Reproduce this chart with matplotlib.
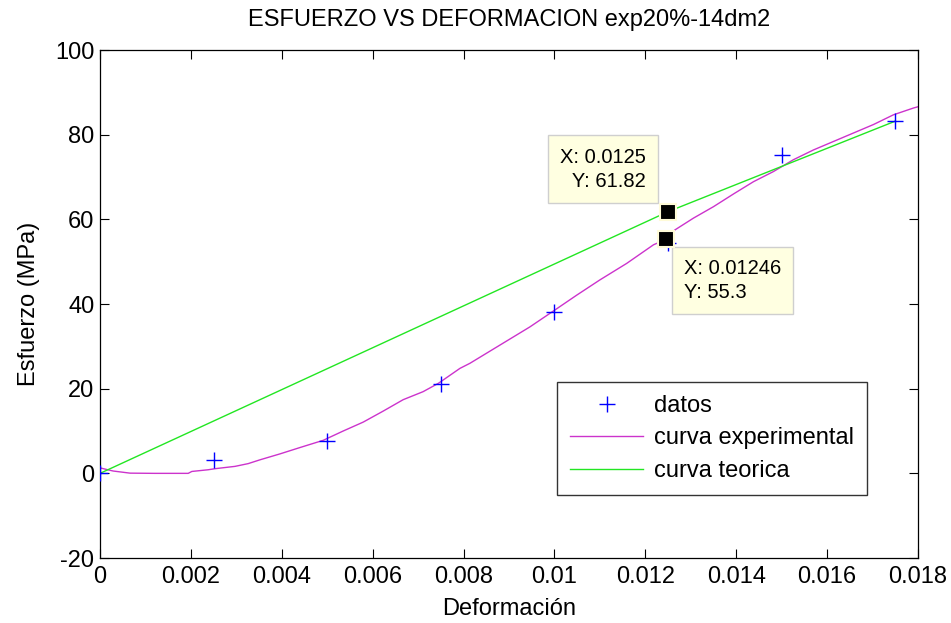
import matplotlib.pyplot as plt

plt.rcParams['font.family'] = ['Liberation Sans', 'DejaVu Sans']
plt.rcParams['axes.unicode_minus'] = False

# measured points
def_datos = [0.0, 0.0025, 0.005, 0.0075, 0.01, 0.0125, 0.015, 0.0175]
esf_datos = [0.0, 3.1, 7.6, 21.0, 38.2, 54.5, 75.2, 83.2]

# experimental curve (strain, stress in MPa)
def_exp = [0.0, 0.00015, 0.00029, 0.00066, 0.0012, 0.00194, 0.00202, 0.00238,
           0.00253, 0.00297, 0.00326, 0.00352, 0.00396, 0.0044, 0.00491,
           0.00535, 0.00579, 0.00623, 0.00667, 0.00711, 0.00745, 0.00792,
           0.00814, 0.0088, 0.00946, 0.00997, 0.01049, 0.011, 0.01159,
           0.01218, 0.01246, 0.01265, 0.01306, 0.0135, 0.01394, 0.01438,
           0.01482, 0.01526, 0.0157, 0.01614, 0.01658, 0.01702, 0.01746,
           0.0179, 0.018]
esf_exp = [1.3, 0.9, 0.55, 0.05, 0.0, 0.0, 0.45, 0.85,
           1.1, 1.65, 2.3, 3.2, 4.6, 6.1, 7.8,
           10.0, 12.1, 14.7, 17.4, 19.3, 21.3, 24.8,
           26.0, 30.3, 34.6, 38.3, 42.1, 45.7, 49.6,
           54.0, 55.3, 57.5, 60.3, 63.0, 66.0, 68.9,
           71.3, 74.1, 76.4, 78.4, 80.4, 82.4, 84.7,
           86.3, 86.6]

# theoretical curve
def_teo = [0.0, 0.0125, 0.0175]
esf_teo = [0.0, 61.82, 83.2]

# data tips
tip_x = [0.0125, 0.01246]
tip_y = [61.82, 55.3]
tip_txt = ['X: 0.0125\n  Y: 61.82', 'X: 0.01246\nY: 55.3']

FS = 17

fig = plt.figure(figsize=(9.51, 6.23), dpi=100)
ax = fig.add_axes([0.1052, 0.1043, 0.8601, 0.8154])

ax.plot(def_datos, esf_datos, '+', color='#0000ff', markersize=11.5, markeredgewidth=1.0,
        label='datos', zorder=4)
ax.plot(def_exp, esf_exp, '-', color='#cc33cc', linewidth=1.0, label='curva experimental')
ax.plot(def_teo, esf_teo, '-', color='#22e622', linewidth=1.0, label='curva teorica')

ax.set_xlim(0, 0.018)
ax.set_ylim(-20, 100)
ax.set_xticks([0, 0.002, 0.004, 0.006, 0.008, 0.01, 0.012, 0.014, 0.016, 0.018])
ax.set_xticklabels(['0', '0.002', '0.004', '0.006', '0.008', '0.01', '0.012',
                    '0.014', '0.016', '0.018'])
ax.set_yticks([-20, 0, 20, 40, 60, 80, 100])
ax.tick_params(direction='in', length=6.5, width=0.8, top=True, right=True,
               labelsize=FS, pad=4)
ax.tick_params(axis='x', pad=6)
for s in ax.spines.values():
    s.set_linewidth(0.9)

ax.set_title('ESFUERZO VS DEFORMACION exp20%-14dm2', fontsize=FS, pad=17)
ax.set_xlabel('Deformación', fontsize=FS, labelpad=7)
ax.set_ylabel('Esfuerzo (MPa)', fontsize=FS, labelpad=11)

# data tip markers and boxes
ax.plot(tip_x, tip_y, 's', color='black', markersize=11, markeredgecolor='#fffbd8',
        markeredgewidth=1.5, zorder=6)
box = dict(boxstyle='square,pad=0.6', facecolor='#ffffe1', edgecolor='#cfcfcf',
           linewidth=1.0)
ax.annotate(tip_txt[0], (tip_x[0], tip_y[0]), xytext=(-16, 15), textcoords='offset points',
            ha='right', va='bottom', fontsize=14.5, bbox=box, zorder=5, linespacing=1.35)
ax.annotate(tip_txt[1], (tip_x[1], tip_y[1]), xytext=(12.5, -14), textcoords='offset points',
            ha='left', va='top', fontsize=14.5, bbox=box, zorder=5, linespacing=1.35)

leg = ax.legend(loc='lower right', bbox_to_anchor=(0.9377, 0.124), fontsize=FS,
                frameon=True, fancybox=False, edgecolor='black', handlelength=3.1,
                borderpad=0.55, labelspacing=0.45, handletextpad=0.45, borderaxespad=0)
leg.get_frame().set_linewidth(1.0)

fig.savefig('out.png', dpi=100, facecolor='white')
